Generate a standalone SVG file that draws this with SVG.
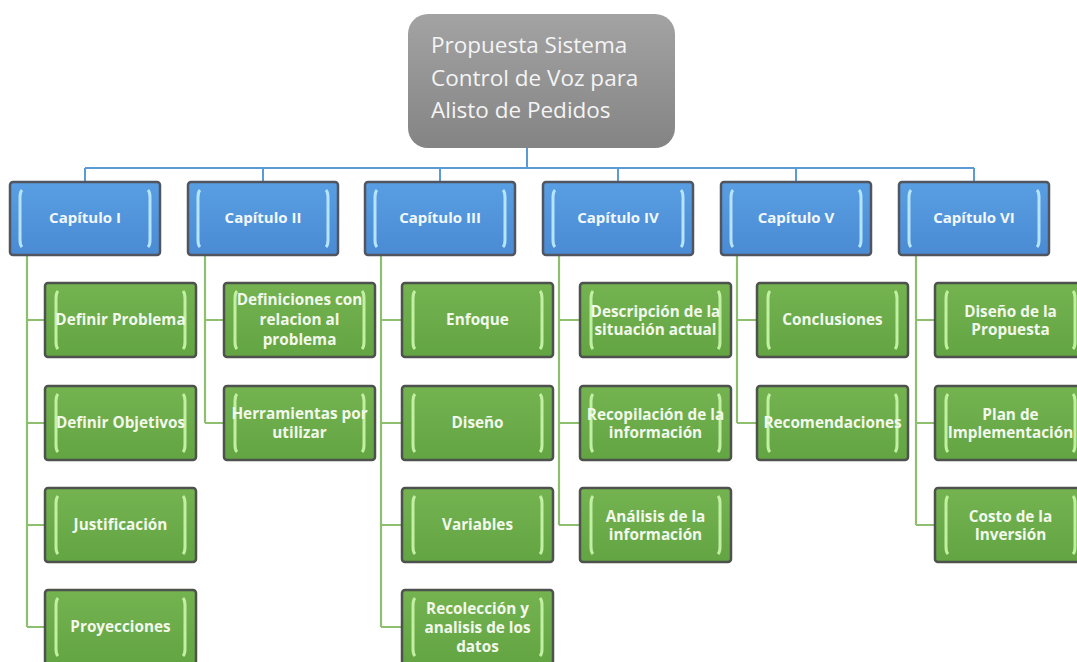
<svg xmlns="http://www.w3.org/2000/svg" xmlns:xlink="http://www.w3.org/1999/xlink" width="1077" height="662" viewBox="0 0 1077 662">
<style>
.bg{fill:#ffffff}
.blue{stroke:#5b9bd5;stroke-width:2;fill:none}
.green{stroke:#8dbf6e;stroke-width:2.2;fill:none}
.ct{font-family:"Open Sans","Noto Sans",sans-serif;font-weight:bold;font-size:15px;fill:#f2f8fc;text-anchor:middle}
.gt{font-family:"Open Sans","Noto Sans",sans-serif;font-weight:bold;font-size:15.3px;fill:#f2f8ec;text-anchor:middle}
.rt{font-family:"Open Sans","Noto Sans",sans-serif;font-size:22.5px;fill:#f4f4f4}
</style>
<defs>
<linearGradient id="gRoot" x1="0" y1="0" x2="0" y2="1">
<stop offset="0" stop-color="#a3a3a3"/>
<stop offset="1" stop-color="#848484"/>
</linearGradient>
<linearGradient id="gBlue" x1="0" y1="0" x2="0" y2="1">
<stop offset="0" stop-color="#599ee2"/>
<stop offset="1" stop-color="#4a8bd4"/>
</linearGradient>
<linearGradient id="gGreen" x1="0" y1="0" x2="0" y2="1">
<stop offset="0" stop-color="#74b350"/>
<stop offset="1" stop-color="#63a443"/>
</linearGradient>
<g id="bbox">
<rect x="0" y="0" width="150" height="73" rx="3" fill="url(#gBlue)" stroke="#505560" stroke-width="2.5"/>
<path d="M12,8 Q10,10 10,15 V58 Q10,63 12,65" fill="none" stroke="#b5e4fb" stroke-width="3"/>
<path d="M138,8 Q140,10 140,15 V58 Q140,63 138,65" fill="none" stroke="#b5e4fb" stroke-width="3"/>
</g>
<g id="gbox">
<rect x="0" y="0" width="151" height="74" rx="3" fill="url(#gGreen)" stroke="#4e524c" stroke-width="2.5"/>
<path d="M13,8 Q11,10 11,15 V59 Q11,64 13,66" fill="none" stroke="#c2f0a2" stroke-width="3"/>
<path d="M138,8 Q140,10 140,15 V59 Q140,64 138,66" fill="none" stroke="#c2f0a2" stroke-width="3"/>
</g>
</defs>
<rect class="bg" x="0" y="0" width="1077" height="662"/>

<g id="connectors">
<path class="blue" d="M527,148 V168 M85,168 H974 M85,168 V181 M263,168 V181 M440,168 V181 M618,168 V181 M796,168 V181 M974,168 V181"/>
<path class="green" d="M27,255 V627 M27,320 H45 M27,423 H45 M27,525 H45 M27,627 H45"/>
<path class="green" d="M205,255 V423 M205,320 H224 M205,423 H224"/>
<path class="green" d="M381,255 V627 M381,320 H401 M381,423 H401 M381,525 H401 M381,627 H401"/>
<path class="green" d="M559,255 V525 M559,320 H579 M559,423 H579 M559,525 H579"/>
<path class="green" d="M737,255 V423 M737,320 H757 M737,423 H757"/>
<path class="green" d="M916,255 V525 M916,320 H935 M916,423 H935 M916,525 H935"/>
</g>

<g id="root">
<rect x="408" y="14" width="267" height="134" rx="20" fill="url(#gRoot)"/>
<text class="rt" x="431" y="53">Propuesta Sistema</text>
<text class="rt" x="431" y="86">Control de Voz para</text>
<text class="rt" x="431" y="118">Alisto de Pedidos</text>
</g>

<g id="cap1" transform="translate(10,182)"><use xlink:href="#bbox"/><text class="ct" x="75" y="41">Capítulo I</text></g>
<g id="cap2" transform="translate(188,182)"><use xlink:href="#bbox"/><text class="ct" x="75" y="41">Capítulo II</text></g>
<g id="cap3" transform="translate(365,182)"><use xlink:href="#bbox"/><text class="ct" x="75" y="41">Capítulo III</text></g>
<g id="cap4" transform="translate(543,182)"><use xlink:href="#bbox"/><text class="ct" x="75" y="41">Capítulo IV</text></g>
<g id="cap5" transform="translate(721,182)"><use xlink:href="#bbox"/><text class="ct" x="75" y="41">Capítulo V</text></g>
<g id="cap6" transform="translate(899,182)"><use xlink:href="#bbox"/><text class="ct" x="75" y="41">Capítulo VI</text></g>

<g id="c1a" transform="translate(45,283)"><use xlink:href="#gbox"/><text class="gt" x="75.5" y="42">Definir Problema</text></g>
<g id="c1b" transform="translate(45,386)"><use xlink:href="#gbox"/><text class="gt" x="75.5" y="42">Definir Objetivos</text></g>
<g id="c1c" transform="translate(45,488)"><use xlink:href="#gbox"/><text class="gt" x="75.5" y="42">Justificación</text></g>
<g id="c1d" transform="translate(45,590)"><use xlink:href="#gbox"/><text class="gt" x="75.5" y="42">Proyecciones</text></g>

<g id="c2a" transform="translate(224,283)"><use xlink:href="#gbox"/><text class="gt" x="75.5" y="22">Definiciones con</text><text class="gt" x="75.5" y="42">relacion al</text><text class="gt" x="75.5" y="62">problema</text></g>
<g id="c2b" transform="translate(224,386)"><use xlink:href="#gbox"/><text class="gt" x="75.5" y="33">Herramientas por</text><text class="gt" x="75.5" y="52">utilizar</text></g>

<g id="c3a" transform="translate(402,283)"><use xlink:href="#gbox"/><text class="gt" x="75.5" y="42">Enfoque</text></g>
<g id="c3b" transform="translate(402,386)"><use xlink:href="#gbox"/><text class="gt" x="75.5" y="42">Diseño</text></g>
<g id="c3c" transform="translate(402,488)"><use xlink:href="#gbox"/><text class="gt" x="75.5" y="42">Variables</text></g>
<g id="c3d" transform="translate(402,590)"><use xlink:href="#gbox"/><text class="gt" x="75.5" y="24">Recolección y</text><text class="gt" x="75.5" y="43">analisis de los</text><text class="gt" x="75.5" y="62">datos</text></g>

<g id="c4a" transform="translate(580,283)"><use xlink:href="#gbox"/><text class="gt" x="75.5" y="34">Descripción de la</text><text class="gt" x="75.5" y="52">situación actual</text></g>
<g id="c4b" transform="translate(580,386)"><use xlink:href="#gbox"/><text class="gt" x="75.5" y="34">Recopilación de la</text><text class="gt" x="75.5" y="52">información</text></g>
<g id="c4c" transform="translate(580,488)"><use xlink:href="#gbox"/><text class="gt" x="75.5" y="34">Análisis de la</text><text class="gt" x="75.5" y="52">información</text></g>

<g id="c5a" transform="translate(757,283)"><use xlink:href="#gbox"/><text class="gt" x="75.5" y="42">Conclusiones</text></g>
<g id="c5b" transform="translate(757,386)"><use xlink:href="#gbox"/><text class="gt" x="75.5" y="42">Recomendaciones</text></g>

<g id="c6a" transform="translate(935,283)"><use xlink:href="#gbox"/><text class="gt" x="75.5" y="34">Diseño de la</text><text class="gt" x="75.5" y="52">Propuesta</text></g>
<g id="c6b" transform="translate(935,386)"><use xlink:href="#gbox"/><text class="gt" x="75.5" y="34">Plan de</text><text class="gt" x="75.5" y="52">Implementación</text></g>
<g id="c6c" transform="translate(935,488)"><use xlink:href="#gbox"/><text class="gt" x="75.5" y="34">Costo de la</text><text class="gt" x="75.5" y="52">Inversión</text></g>
</svg>
